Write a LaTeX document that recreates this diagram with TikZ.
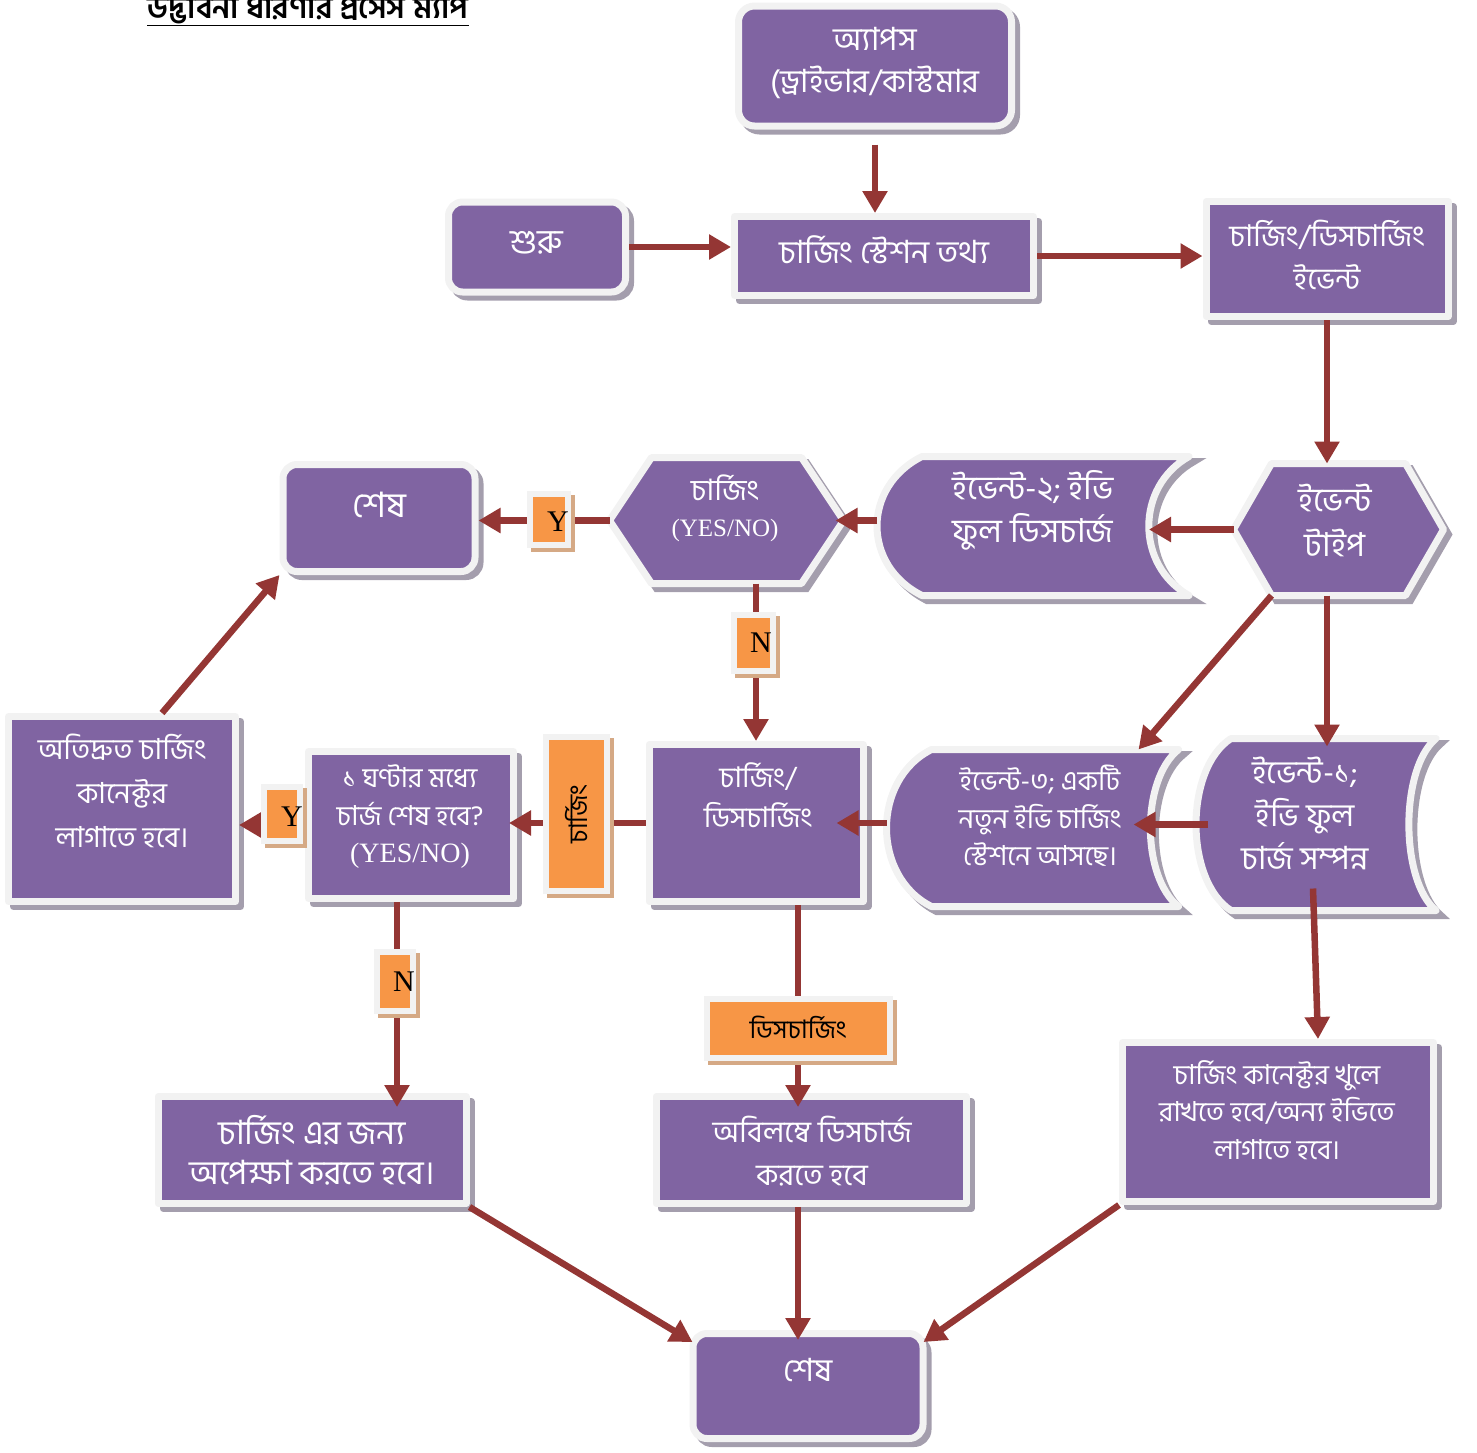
\documentclass[tikz,border=0pt]{standalone}
\usepackage{fontspec}
\setmainfont{Liberation Serif}
\newfontfamily\bn[Script=Bengali]{Hind Siliguri}
\usetikzlibrary{arrows.meta,calc}
\definecolor{purp}{HTML}{8064A2}
\definecolor{bord}{HTML}{F2F2F2}
\definecolor{shad}{HTML}{A49EAD}
\definecolor{arr}{HTML}{943634}
\definecolor{orng}{HTML}{F79646}
\definecolor{oshad}{HTML}{D5A985}
\tikzset{
  pshape/.style={fill=purp, draw=bord, line width=7pt, line join=round,
    preaction={fill=shad, draw=shad, line width=7pt, transform canvas={shift={(5pt,-5pt)}}}},
  box/.style={pshape, inner sep=0pt},
  rbox/.style={box, rounded corners=16pt},
  ghost/.style={draw=none, fill=none, inner sep=0pt, outer sep=0pt},
  oshape/.style={fill=orng, draw=bord, line width=6pt,
    preaction={fill=oshad, draw=oshad, line width=6pt, transform canvas={shift={(4pt,-4pt)}}}},
  obox/.style={oshape, inner sep=0pt},
  wt/.style={text=white, align=center, inner sep=0pt, font=\bn\fontsize{31}{42}\selectfont},
  wts/.style={wt, font=\bn\fontsize{27.5}{37.5}\selectfont},
  bt/.style={text=black, inner sep=0pt, font=\fontsize{30}{34}\selectfont},
  bnt/.style={text=black, inner sep=0pt, font=\bn\fontsize{25.5}{30}\selectfont},
  conn/.style={draw=arr, line width=6.5pt, -{Triangle[length=22pt,width=24pt]}},
}
\newcommand\sdpath[3]{%
  \path[pshape] ($(#1.north west)+(#2,0)$) -- (#1.north east)
    .. controls ($(#1.north east)+(-1.34*#3,30)$) and ($(#1.south east)+(-1.34*#3,-30)$) .. (#1.south east)
    -- ($(#1.south west)+(#2,0)$)
    .. controls ($(#1.south west)+(-#2/3,-30)$) and ($(#1.north west)+(-#2/3,30)$) .. ($(#1.north west)+(#2,0)$)
    -- cycle;}
\newcommand\hexpath[2]{%
  \path[pshape] (#1.west) -- ($(#1.north west)+(#2,0)$) -- ($(#1.north east)+(-#2,0)$)
    -- (#1.east) -- ($(#1.south east)+(-#2,0)$) -- ($(#1.south west)+(#2,0)$) -- cycle;}
\begin{document}
\begin{tikzpicture}[x=1pt,y=-1pt]
\useasboundingbox (0,0) rectangle (1477,1452);

% title
\node[anchor=base, inner sep=0pt, font=\bn\bfseries\fontsize{31}{33}\selectfont] (title) at (308,18) {\underline{উদ্ভাবনা ধারণার প্রসেস ম্যাপ}};

% rectangular boxes
\node[rbox, minimum width=273pt, minimum height=120pt] (apps) at (875,66) {};
\node[rbox, rounded corners=14pt, minimum width=177pt, minimum height=90pt] (start) at (537,247) {};
\node[box, minimum width=299pt, minimum height=79pt] (info) at (884,256) {};
\node[box, minimum width=242pt, minimum height=115pt] (event) at (1327,259) {};
\node[rbox, rounded corners=14pt, minimum width=192pt, minimum height=107pt] (end1) at (379,518) {};
\node[box, minimum width=214pt, minimum height=157pt] (chdis) at (756,823) {};
\node[box, minimum width=205pt, minimum height=147pt] (hour) at (411,825) {};
\node[box, minimum width=227pt, minimum height=185pt] (fast) at (122,809) {};
\node[box, minimum width=308pt, minimum height=107pt] (wait) at (312,1150) {};
\node[box, minimum width=310pt, minimum height=107pt] (immediate) at (811,1150) {};
\node[box, minimum width=311pt, minimum height=159pt] (unplug) at (1278,1122) {};
\node[rbox, rounded corners=14pt, minimum width=230pt, minimum height=105pt] (end2) at (808,1386) {};

% hexagons and stored-data shapes
\node[ghost, minimum width=210pt, minimum height=132pt] (type) at (1338.5,529.5) {};
\hexpath{type}{38}
\node[ghost, minimum width=234pt, minimum height=126pt] (hex2) at (726.5,520.5) {};
\hexpath{hex2}{42}
\node[ghost, minimum width=312pt, minimum height=139pt] (ev2) at (1033,526) {};
\sdpath{ev2}{45}{40}
\node[ghost, minimum width=292pt, minimum height=157pt] (ev3) at (1032.5,828) {};
\sdpath{ev3}{45}{28}
\node[ghost, minimum width=240pt, minimum height=172pt] (ev1) at (1316,824.5) {};
\sdpath{ev1}{35}{27}

% helper coordinates
\coordinate (ev2r) at ($(ev2.east)+(-40,0)$);
\coordinate (typebl) at ($(type.south west)+(38,0)$);
\coordinate (ev3tr) at ($(ev3.north east)+(-40,0)$);
\coordinate (ev1l) at ($(ev1.west)+(12,0)$);
\coordinate (ev3r) at ($(ev3.east)+(-45,0)$);
\coordinate (fastn) at ($(fast.north)+(40,0)$);
\coordinate (hourb) at ($(hour.south)+(-14,0)$);
\coordinate (chdisb) at ($(chdis.south)+(42,0)$);
\coordinate (ev1b) at ($(ev1.south)+(-3,-22)$);
\coordinate (unplugt) at ($(unplug.north)+(40,0)$);
\coordinate (end2nw) at ($(end2.north west)+(3,12)$);
\coordinate (end2ne) at ($(end2.north east)+(-3,12)$);

% connectors
\draw[conn, shorten <=15pt] (apps.south) -- (apps.south |- info.north);
\draw[conn] (start.east) -- (start.east -| info.west);
\draw[conn] (info.east) -- (info.east -| event.west);
\draw[conn] (event.south) -- (event.south |- type.north);
\draw[conn] (type.west) -- (type.west -| ev2r);
\draw[conn, shorten >=-8pt] (hex2.east -| ev2.west) -- (hex2.east);
\draw[conn] (hex2.west) -- (hex2.west -| end1.east);
\draw[conn] (chdis.north |- hex2.south) -- (chdis.north);
\draw[conn] (typebl) -- (ev3tr);
\draw[conn, shorten >=-8pt] (type.south -| event.south) -- (event.south |- ev1.north);
\draw[conn] (ev1l) -- (ev1l -| ev3r);
\draw[conn, shorten >=-30pt] (chdis.east -| ev3.west) -- (chdis.east);
\draw[conn, shorten >=-8pt] (chdis.west) -- (chdis.west -| hour.east);
\draw[conn] (hour.west) -- (hour.west -| fast.east);
\draw[conn] (fastn) -- (end1.south west);
\draw[conn, shorten >=-14pt] (hourb) -- (hourb |- wait.north);
\draw[conn, shorten >=-14pt] (chdisb) -- (chdisb |- immediate.north);
\draw[conn] (ev1b) -- (unplugt);
\draw[conn] (wait.south east) -- (end2nw);
\draw[conn, shorten >=-10pt] (chdisb |- immediate.south) -- (chdisb |- end2.north);
\draw[conn] (unplug.south west) -- (end2ne);

% orange label boxes
\node[obox, minimum width=38pt, minimum height=51pt] (y1) at (549,519.5) {};
\node[bt] (y1t) at (558,522) {Y};
\node[obox, minimum width=39pt, minimum height=56pt] (n1) at (753.5,643) {};
\node[bt] (n1t) at (761,643) {N};
\node[obox, minimum width=36pt, minimum height=54pt] (y2) at (282,814) {};
\node[bt] (y2t) at (292,817) {Y};
\node[obox, minimum width=36pt, minimum height=59pt] (n2) at (395,981.5) {};
\node[bt] (n2t) at (404,982) {N};
\node[obox, minimum width=61pt, minimum height=154pt] (vch) at (576.5,814) {};
\node[bnt, rotate=90] (vcht) at (577,814) {চার্জিং};
\node[obox, minimum width=183pt, minimum height=59pt] (dis) at (798.5,1028.5) {};
\node[bnt] (dist) at (798,1027) {ডিসচার্জিং};

% texts
\node[wt, font=\bn\fontsize{32}{42}\selectfont] (apps-t) at (875,63) {অ্যাপস\\(ড্রাইভার/কাস্টমার};
\node[wt, font=\bn\fontsize{34}{42}\selectfont] (start-t) at (537,243) {শুরু};
\node[wt, font=\bn\fontsize{32}{42}\selectfont] (info-t) at (884,250) {চার্জিং স্টেশন তথ্য};
\node[wt, font=\bn\fontsize{30}{43}\selectfont] (event-t) at (1327,255) {চার্জিং/ডিসচার্জিং\\ইভেন্ট};
\node[wt, font=\bn\fontsize{33}{45}\selectfont] (type-t) at (1335,520) {ইভেন্ট\\টাইপ};
\node[wt, font=\bn\fontsize{33}{43}\selectfont] (ev2-t) at (1033,510) {ইভেন্ট-২; ইভি\\ফুল ডিসচার্জ};
\node[wt, font=\bn\fontsize{29.5}{36}\selectfont] (hex2-t) at (725,508) {চার্জিং\\{\normalfont\fontsize{25}{36}\selectfont (YES/NO)}};
\node[wt, font=\bn\fontsize{35}{42}\selectfont] (end1-t) at (379,505) {শেষ};
\node[wt, font=\bn\fontsize{28.5}{40}\selectfont] (chdis-t) at (758,795) {চার্জিং/\\ডিসচার্জিং};
\node[wts] (ev3-t) at (1040,816) {ইভেন্ট-৩; একটি\\নতুন ইভি চার্জিং\\স্টেশনে আসছে।};
\node[wt, font=\bn\fontsize{32}{43}\selectfont] (ev1-t) at (1305,813) {ইভেন্ট-১;\\ইভি ফুল\\চার্জ সম্পন্ন};
\node[wts] (hour-t) at (410,817) {১ ঘণ্টার মধ্যে\\চার্জ শেষ হবে?\\{\normalfont\fontsize{28}{37.5}\selectfont (YES/NO)}};
\node[wt, font=\bn\fontsize{29}{44}\selectfont] (fast-t) at (122,791) {অতিদ্রুত চার্জিং\\কানেক্টর\\লাগাতে হবে।};
\node[wt, font=\bn\fontsize{33.5}{40}\selectfont] (wait-t) at (312,1150) {চার্জিং এর জন্য\\অপেক্ষা করতে হবে।};
\node[wt, font=\bn\fontsize{30}{43}\selectfont] (imm-t) at (812,1151) {অবিলম্বে ডিসচার্জ\\করতে হবে};
\node[wts] (unplug-t) at (1277,1110) {চার্জিং কানেক্টর খুলে\\রাখতে হবে/অন্য ইভিতে\\লাগাতে হবে।};
\node[wt, font=\bn\fontsize{32}{42}\selectfont] (end2-t) at (808,1370) {শেষ};
\end{tikzpicture}
\end{document}
